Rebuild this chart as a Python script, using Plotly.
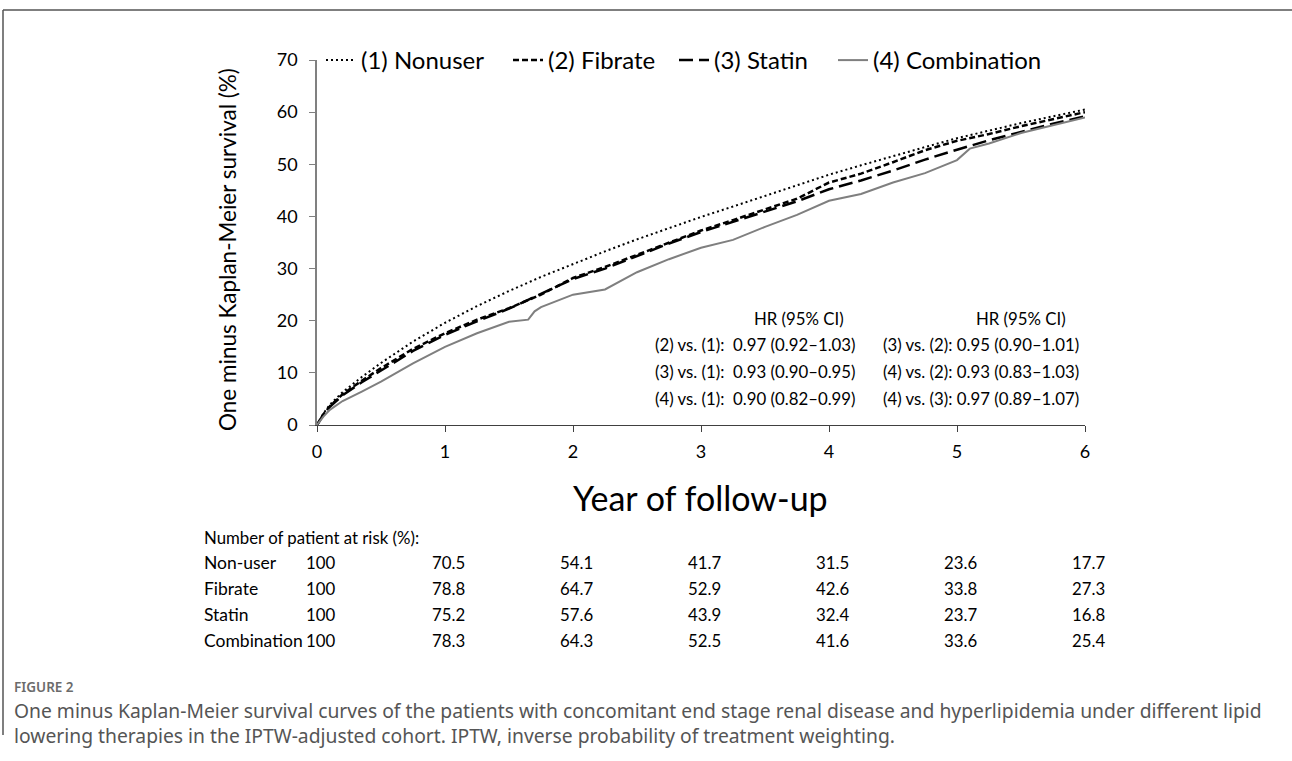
import plotly.graph_objects as go

# ---- data ----
t_nonuser = [0, 0.05, 0.1, 0.2, 0.35, 0.5, 0.75, 1, 1.25, 1.5, 1.75, 2, 2.25, 2.5, 2.75, 3,
             3.25, 3.5, 3.75, 4, 4.25, 4.5, 4.75, 5, 5.25, 5.5, 5.75, 6]
nonuser = [0, 2.2, 3.9, 6.3, 9.2, 11.9, 16.0, 19.6, 22.8, 25.7, 28.4, 30.9, 33.3, 35.6, 37.8, 39.9,
           41.9, 43.9, 45.9, 48.0, 49.8, 51.6, 53.3, 55.0, 56.5, 57.9, 59.2, 60.5]

t_fibrate = [0, 0.05, 0.1, 0.2, 0.35, 0.5, 0.75, 1, 1.25, 1.5, 1.75, 2, 2.25, 2.5, 2.75, 3,
             3.25, 3.5, 3.75, 4, 4.25, 4.5, 4.75, 5, 5.25, 5.5, 5.75, 6]
fibrate = [0, 2.0, 3.6, 5.9, 8.5, 10.9, 14.6, 17.6, 20.2, 22.4, 25.0, 28.2, 30.3, 32.6, 35.0, 37.3,
           39.3, 41.3, 43.4, 46.5, 48.2, 50.4, 52.7, 54.5, 55.8, 57.3, 58.7, 60.0]

t_statin = [0, 0.05, 0.1, 0.2, 0.35, 0.5, 0.75, 1, 1.25, 1.5, 1.75, 2, 2.25, 2.5, 2.75, 3,
            3.25, 3.5, 3.75, 4, 4.25, 4.5, 4.75, 5, 5.25, 5.5, 5.75, 6]
statin = [0, 2.0, 3.5, 5.7, 8.2, 10.5, 14.2, 17.3, 19.9, 22.3, 25.2, 28.0, 30.0, 32.4, 34.8, 37.0,
          39.0, 41.0, 42.9, 45.2, 46.9, 48.8, 50.9, 52.8, 54.6, 56.2, 57.8, 59.2]

t_combo = [0, 0.05, 0.1, 0.2, 0.35, 0.5, 0.75, 1, 1.25, 1.5, 1.65, 1.7, 1.75, 2, 2.25, 2.5, 2.75, 3,
           3.25, 3.5, 3.75, 4, 4.25, 4.5, 4.75, 5, 5.1, 5.25, 5.5, 5.75, 6]
combo = [0, 1.6, 2.9, 4.6, 6.4, 8.3, 11.8, 15.0, 17.6, 19.8, 20.2, 21.8, 22.6, 25.0, 26.0, 29.3, 31.8, 34.0,
         35.5, 38.0, 40.3, 43.0, 44.3, 46.5, 48.3, 50.8, 53.0, 54.0, 56.0, 57.5, 59.0]

series_names = ["(1) Nonuser", "(2) Fibrate", "(3) Statin", "(4) Combination"]

y_ticks = [0, 10, 20, 30, 40, 50, 60, 70]
x_ticks = [0, 1, 2, 3, 4, 5, 6]

hr_left_rows = ["(2) vs. (1):  0.97 (0.92–1.03)",
                "(3) vs. (1):  0.93 (0.90–0.95)",
                "(4) vs. (1):  0.90 (0.82–0.99)"]
hr_right_rows = ["(3) vs. (2): 0.95 (0.90–1.01)",
                 "(4) vs. (2): 0.93 (0.83–1.03)",
                 "(4) vs. (3): 0.97 (0.89–1.07)"]

risk_groups = ["Non-user", "Fibrate", "Statin", "Combination"]
risk_years = [0, 1, 2, 3, 4, 5, 6]
risk_values = [
    ["100", "70.5", "54.1", "41.7", "31.5", "23.6", "17.7"],
    ["100", "78.8", "64.7", "52.9", "42.6", "33.8", "27.3"],
    ["100", "75.2", "57.6", "43.9", "32.4", "23.7", "16.8"],
    ["100", "78.3", "64.3", "52.5", "41.6", "33.6", "25.4"],
]

caption_label = "FIGURE 2"
caption_lines = [
    "One minus Kaplan-Meier survival curves of the patients with concomitant end stage renal disease and hyperlipidemia under different lipid",
    "lowering therapies in the IPTW-adjusted cohort. IPTW, inverse probability of treatment weighting.",
]

W, H = 1292, 761
FONT = "Lato"
CAP_FONT = "Noto Sans"

def px(xp):
    return xp / W

def py(yp):
    return 1 - yp / H

legend_ids = ["legend", "legend2", "legend3", "legend4"]
legend_text_x = [361, 548, 714, 873]

fig = go.Figure()
fig.add_trace(go.Scatter(x=t_nonuser, y=nonuser, mode="lines", name=series_names[0], legend=legend_ids[0],
                         line=dict(color="black", width=2, dash="2px,3px")))
fig.add_trace(go.Scatter(x=t_fibrate, y=fibrate, mode="lines", name=series_names[1], legend=legend_ids[1],
                         line=dict(color="black", width=2.5, dash="6px,3px")))
fig.add_trace(go.Scatter(x=t_statin, y=statin, mode="lines", name=series_names[2], legend=legend_ids[2],
                         line=dict(color="black", width=2.5, dash="14px,6px")))
fig.add_trace(go.Scatter(x=t_combo, y=combo, mode="lines", name=series_names[3], legend=legend_ids[3],
                         line=dict(color="#7f7f7f", width=2)))

txt = dict(family=FONT, size=16.8, color="black")

def note(x, y, text, font, xanchor="center", xref="paper", **kw):
    return dict(x=x, y=y, xref=xref, yref="paper", text=text, xanchor=xanchor, yanchor="middle",
                showarrow=False, font=font, **kw)

ann = []
ann.append(note(px(228), py(250), "One minus Kaplan-Meier survival (%)",
                dict(family=FONT, size=22.5, color="black"), textangle=-90))
ann.append(note(px(700), py(497), "Year of follow-up", dict(family=FONT, size=34, color="black")))
ann.append(note(px(799), py(318), "HR (95% CI)", txt))
ann.append(note(px(1021), py(318), "HR (95% CI)", txt))
for i, (l, r) in enumerate(zip(hr_left_rows, hr_right_rows)):
    yy = py(345 + 26.5 * i)
    ann.append(note(px(858), yy, l, txt, xanchor="right"))
    ann.append(note(px(1081), yy, r, txt, xanchor="right"))
ann.append(note(px(202), py(537), "Number of patient at risk (%):", txt, xanchor="left"))
for i, g in enumerate(risk_groups):
    yy = py(562 + 26.3 * i)
    ann.append(note(px(202), yy, g, dict(txt, size=17.5), xanchor="left"))
    for j, yr in enumerate(risk_years):
        ann.append(note(yr, yy, risk_values[i][j], txt, xref="x", xshift=3))
ann.append(note(px(12), py(687), caption_label,
                dict(family=CAP_FONT, size=13.5, color="#6b6b6b", weight=600), xanchor="left"))
ann.append(note(px(12), py(722.5), "<br>".join(caption_lines),
                dict(family=CAP_FONT, size=19.3, color="#555555"), xanchor="left", align="left"))

shapes = [
    dict(type="line", xref="paper", yref="paper", x0=px(3), x1=1, y0=py(10), y1=py(10),
         line=dict(color="#555555", width=1.5)),
    dict(type="line", xref="paper", yref="paper", x0=px(3), x1=px(3), y0=py(10), y1=py(735),
         line=dict(color="#555555", width=1.5)),
]

legend_style = dict(orientation="h", xanchor="left", yanchor="top",
                    font=dict(family=FONT, size=24, color="black"), bgcolor="rgba(0,0,0,0)",
                    itemwidth=30)
legends = {}
for lid, tx in zip(legend_ids, legend_text_x):
    legends[lid] = dict(legend_style, x=px(tx - 40), y=py(38))

fig.update_layout(
    width=W, height=H,
    margin=dict(l=0, r=0, t=0, b=0, pad=0, autoexpand=False),
    paper_bgcolor="white", plot_bgcolor="white",
    font=dict(family=FONT, size=18, color="black"),
    showlegend=True,
    annotations=ann,
    shapes=shapes,
    xaxis=dict(domain=[px(317), px(1085)], range=[0, 6], tickvals=x_ticks, ticks="outside",
               ticklen=6, tickcolor="#404040", showline=True, linecolor="#404040", linewidth=1,
               showgrid=False, zeroline=False, tickfont=dict(family=FONT, size=18), fixedrange=True,
               automargin=False, ticklabelstandoff=4),
    yaxis=dict(domain=[py(425), py(60)], range=[0, 70], tickvals=y_ticks, ticks="outside",
               ticklen=6, tickcolor="#808080", showline=True, linecolor="#808080", linewidth=1.5,
               showgrid=False, zeroline=False, tickfont=dict(family=FONT, size=18), fixedrange=True,
               automargin=False, ticklabelstandoff=8),
    **legends,
)

fig.write_html("out.html", config={"displayModeBar": False},
               post_script="document.body.style.margin='0px';")
